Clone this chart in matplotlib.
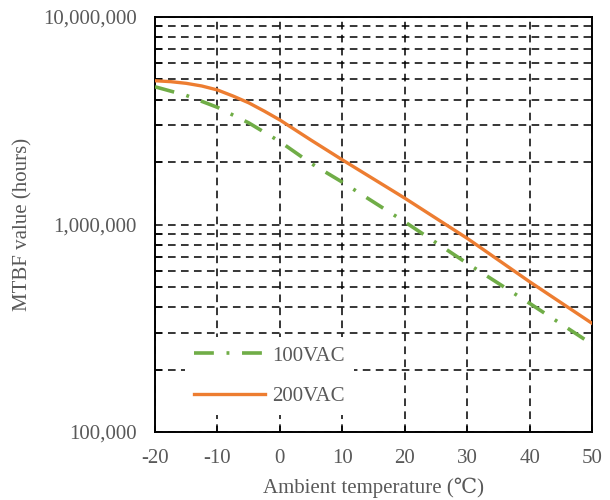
import matplotlib
matplotlib.use("Agg")
import matplotlib.pyplot as plt
from matplotlib.ticker import FixedLocator, FuncFormatter, NullFormatter
import numpy as np

temps100 = [-20, -15, -10, -5, 0, 5, 10, 20, 30, 40, 50]
vac100 = [4.61e6, 4.19e6, 3.67e6, 3.09e6, 2.51e6, 1.97e6, 1.60e6, 1.03e6, 6.5e5, 4.17e5, 2.65e5]
temps200 = [-20, -17.5, -15, -12.5, -10, -7.5, -5, -2.5, 0, 5, 10, 20, 30, 40, 50]
vac200 = [4.93e6, 4.88e6, 4.79e6, 4.65e6, 4.45e6, 4.16e6, 3.86e6, 3.52e6, 3.19e6, 2.55e6,
          2.05e6, 1.34e6, 8.58e5, 5.30e5, 3.34e5]
xticks = [-20, -10, 0, 10, 20, 30, 40, 50]
yticks = [1e5, 1e6, 1e7]

FAM = ['Liberation Serif', 'DejaVu Serif', 'DejaVu Sans']
plt.rcParams['font.family'] = FAM
TXT = '#595959'
FS = 15

fig = plt.figure(figsize=(6.1, 5.0), dpi=100)
ax = fig.add_axes([155/610, 68/500, (592-155)/610, (432-17)/500])

ax.plot(temps100, vac100, color='#70AD47', lw=2.6, dashes=(5.5, 3.5, 0.8, 3.5), label='100VAC', zorder=3)
ax.plot(temps200, vac200, color='#ED7D31', lw=2.4, label='200VAC', zorder=3)

ax.set_yscale('log')
ax.set_xlim(-20, 50)
ax.set_ylim(1e5, 1e7)
ax.xaxis.set_major_locator(FixedLocator(xticks))
ax.yaxis.set_major_locator(FixedLocator(yticks))
minors = [m * 10**e for e in (5, 6) for m in range(2, 10)]
ax.yaxis.set_minor_locator(FixedLocator(minors))
ax.yaxis.set_minor_formatter(NullFormatter())
ax.yaxis.set_major_formatter(FuncFormatter(lambda v, p: f"{int(round(v)):,}"))
ax.xaxis.set_major_formatter(FuncFormatter(lambda v, p: f"{int(v)}"))

ax.grid(True, which='both', axis='y', color='black', ls=(0, (5, 3.5)), lw=1.1)
ax.grid(True, which='major', axis='x', color='black', ls=(0, (5, 3.5)), lw=1.1)

ax.tick_params(axis='both', which='both', direction='in', colors='black', labelcolor=TXT, labelsize=FS)
ax.tick_params(axis='y', which='major', length=0, pad=13)
ax.tick_params(axis='y', which='minor', length=5, width=1.1)
ax.tick_params(axis='x', which='major', length=4, width=1.1, pad=12)
for s in ax.spines.values():
    s.set_color('black')
    s.set_linewidth(1.4)

ax.set_xlabel('Ambient temperature (℃)', color=TXT, fontsize=FS, labelpad=7)
ax.set_ylabel('MTBF value (hours)', color=TXT, fontsize=FS, labelpad=8)

leg = ax.legend(loc='center left', bbox_to_anchor=(0.045, 0.135), frameon=True, fontsize=FS,
                handlelength=3.4, labelspacing=1.0, handletextpad=0.35, borderpad=0.45)
leg.get_frame().set_facecolor('white')
leg.get_frame().set_edgecolor('none')
leg.get_frame().set_alpha(1)
for t in leg.get_texts():
    t.set_color(TXT)

fig.savefig('out.png', dpi=100)
